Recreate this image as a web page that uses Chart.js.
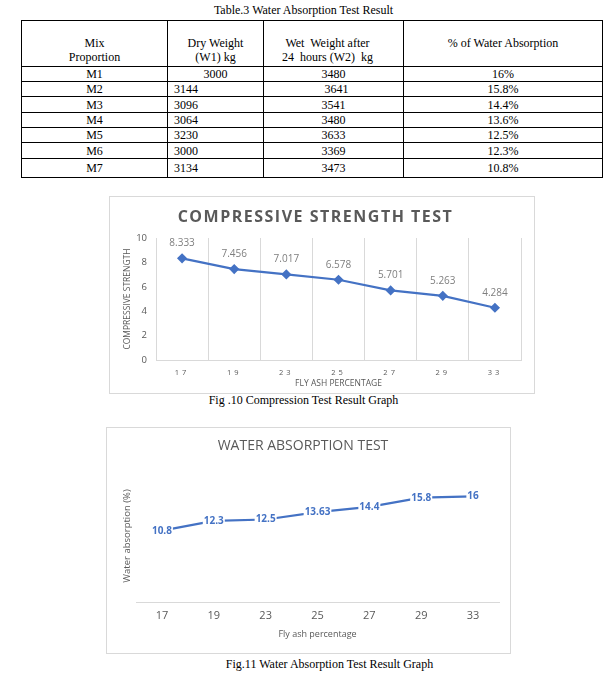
<!DOCTYPE html>
<html>
<head>
<meta charset="utf-8">
<script src="https://cdn.jsdelivr.net/npm/chart.js@4/dist/chart.umd.min.js"></script>
<style>
html,body{margin:0;padding:0;background:#fff;}
#page{position:relative;width:607px;height:676px;overflow:hidden;background:#fff;}
.serif{font-family:"Liberation Serif","Times New Roman",serif;font-size:12px;color:#000;}
.cap{position:absolute;left:0;width:607px;text-align:center;line-height:14px;}
table{position:absolute;left:21px;top:20px;border-collapse:collapse;table-layout:fixed;}
td{border:1px solid #000;padding:0;line-height:14px;text-align:center;vertical-align:middle;white-space:nowrap;overflow:hidden;}
td.l{text-align:left;padding-left:6px;}
tr.h td{vertical-align:top;padding-top:15px;}
.box{position:absolute;border:1px solid #d9d9d9;background:#fff;}
.box canvas{display:block;}
</style>
</head>
<body>
<div id="page">
  <div class="cap serif" style="top:3px;">Table.3 Water Absorption Test Result</div>
  <table class="serif" id="tbl">
    <colgroup><col style="width:146px"><col style="width:96px"><col style="width:140px"><col style="width:199px"></colgroup>
    <tbody id="tbody"></tbody>
  </table>

  <div class="box" style="left:109px;top:196px;width:424px;height:196px;">
    <canvas id="c1" width="424" height="196" style="width:424px;height:196px;"></canvas>
  </div>
  <div class="cap serif" style="top:393px;">Fig .10 Compression Test Result Graph</div>

  <div class="box" style="left:106px;top:427px;width:403px;height:225px;">
    <canvas id="c2" width="403" height="225" style="width:403px;height:225px;"></canvas>
  </div>
  <div class="cap serif" style="top:657px;left:26px;">Fig.11 Water Absorption Test Result Graph</div>
</div>
<script>
// ---------- data ----------
const tableHeaders = ["Mix<br>Proportion", "Dry Weight<br>(W1) kg", "Wet&nbsp; Weight after<br>24&nbsp; hours (W2)&nbsp; kg", "% of Water Absorption"];
const mixes = ["M1", "M2", "M3", "M4", "M5", "M6", "M7"];
const dryWeights = ["3000", "3144", "3096", "3064", "3230", "3000", "3134"];
const wetWeights = ["3480", "3641", "3541", "3480", "3633", "3369", "3473"];
const absorptionPct = ["16%", "15.8%", "14.4%", "13.6%", "12.5%", "12.3%", "10.8%"];

const flyAshCategories = ["17", "19", "23", "25", "27", "29", "33"];
const compressiveStrength = [8.333, 7.456, 7.017, 6.578, 5.701, 5.263, 4.284];
const waterAbsorption = [10.8, 12.3, 12.5, 13.63, 14.4, 15.8, 16];
const compressiveTicks = [0, 2, 4, 6, 8, 10];

// ---------- table ----------
const rowHeights = [46, 15, 15, 16, 15, 15, 16, 19];
const tb = document.getElementById('tbody');
let html = '<tr class="h" style="height:' + rowHeights[0] + 'px">';
tableHeaders.forEach((h, i) => {
  html += '<td' + (i === 2 ? ' style="padding-right:12px"' : '') + '>' + h + '</td>';
});
html += '</tr>';
mixes.forEach((m, i) => {
  html += '<tr style="height:' + rowHeights[i + 1] + 'px">';
  html += '<td>' + m + '</td>';
  html += '<td' + (i === 0 ? '' : ' class="l"') + '>' + dryWeights[i] + '</td>';
  html += '<td>' + (i === 1 ? '&nbsp;&nbsp;' : '') + wetWeights[i] + '</td>';
  html += '<td>' + absorptionPct[i] + '</td>';
  html += '</tr>';
});
tb.innerHTML = html;

// ---------- plugins ----------
const spacingPlugin = {
  id: 'spacing',
  afterLayout(chart, args, opts) {
    const t = chart.titleBlock;
    if (t && !t._sp && opts.title) {
      const d = t.draw.bind(t);
      t.draw = function (a) { const c = chart.ctx; c.save(); c.letterSpacing = opts.title; d(a); c.restore(); };
      t._sp = true;
    }
    const xs = chart.scales.x;
    if (xs && !xs._sp && opts.xTicks) {
      const d = xs.drawLabels.bind(xs);
      xs.drawLabels = function (a) { const c = chart.ctx; c.save(); c.letterSpacing = opts.xTicks; d(a); c.restore(); };
      xs._sp = true;
    }
  }
};

const pointLabelPlugin = {
  id: 'pointLabels',
  afterDatasetsDraw(chart, args, opts) {
    const ctx = chart.ctx;
    const meta = chart.getDatasetMeta(0);
    const data = chart.data.datasets[0].data;
    ctx.save();
    ctx.font = opts.font;
    ctx.textAlign = 'center';
    ctx.textBaseline = 'middle';
    meta.data.forEach((pt, i) => {
      const txt = String(data[i]);
      const x = pt.x, y = pt.y + (opts.dy || 0);
      if (opts.bg) {
        const w = ctx.measureText(txt).width;
        ctx.fillStyle = opts.bg;
        ctx.fillRect(x - w / 2 - opts.pad, y - opts.h / 2, w + 2 * opts.pad, opts.h);
      }
      ctx.fillStyle = opts.color;
      ctx.fillText(txt, x, y);
    });
    ctx.restore();
  }
};

const FONT = '"Open Sans", "Noto Sans", sans-serif';
const GRAY = '#595959';
const BLUE = '#4472C4';

// ---------- chart 1 ----------
new Chart(document.getElementById('c1'), {
  type: 'line',
  data: {
    labels: flyAshCategories,
    datasets: [{
      data: compressiveStrength,
      borderColor: BLUE,
      backgroundColor: BLUE,
      borderWidth: 2.25,
      pointStyle: 'rectRot',
      pointRadius: 3.5,
      pointHoverRadius: 3.5,
      tension: 0,
      fill: false
    }]
  },
  options: {
    responsive: false,
    animation: false,
    events: [],
    layout: { padding: { left: 0, right: 13, top: 0, bottom: 0 } },
    plugins: {
      legend: { display: false },
      tooltip: { enabled: false },
      title: {
        display: true,
        text: 'COMPRESSIVE STRENGTH TEST',
        color: GRAY,
        font: { family: FONT, size: 16, weight: 'bold', lineHeight: 1.2 },
        padding: { top: 11, bottom: 10.8 }
      },
      spacing: { title: '1.5px', xTicks: '3px' },
      pointLabels: { font: '10px ' + FONT, color: '#7f7f7f', dy: -15 }
    },
    scales: {
      x: {
        offset: true,
        grid: { display: true, offset: true, color: '#d9d9d9', lineWidth: 1, drawTicks: false },
        border: { display: true, color: '#d9d9d9' },
        ticks: { color: GRAY, font: { family: FONT, size: 7.5 }, padding: 8, maxRotation: 0 },
        title: { display: true, text: 'FLY ASH PERCENTAGE', color: GRAY, font: { family: FONT, size: 8.5 }, padding: { top: 0, bottom: 4 } },
        afterFit(s) { s.height = 33; }
      },
      y: {
        min: 0, max: 10,
        afterBuildTicks(s) { s.ticks = compressiveTicks.map(v => ({ value: v })); },
        grid: { display: false, drawTicks: false },
        border: { display: false },
        ticks: { color: GRAY, font: { family: FONT, size: 9.5 }, padding: 9 },
        title: { display: true, text: 'COMPRESSIVE STRENGTH', color: GRAY, font: { family: FONT, size: 8.5 }, padding: { top: 12.5, bottom: 0 } },
        afterFit(s) { s.width = 46; }
      }
    }
  },
  plugins: [spacingPlugin, pointLabelPlugin]
});

// ---------- chart 2 ----------
new Chart(document.getElementById('c2'), {
  type: 'line',
  data: {
    labels: flyAshCategories,
    datasets: [{
      data: waterAbsorption,
      borderColor: BLUE,
      backgroundColor: BLUE,
      borderWidth: 2.25,
      pointRadius: 0,
      pointHoverRadius: 0,
      tension: 0,
      fill: false
    }]
  },
  options: {
    responsive: false,
    animation: false,
    events: [],
    layout: { padding: { left: 0, right: 11, top: 0, bottom: 0 } },
    plugins: {
      legend: { display: false },
      tooltip: { enabled: false },
      title: {
        display: true,
        text: 'WATER ABSORPTION TEST',
        color: GRAY,
        font: { family: FONT, size: 14, weight: 'normal', lineHeight: 1.2 },
        padding: { top: 9.6, bottom: 15.6 }
      },
      pointLabels: { font: 'bold 10px ' + FONT, color: BLUE, dy: 0, bg: '#ffffff', pad: 1, h: 11 }
    },
    scales: {
      x: {
        offset: true,
        grid: { display: false, drawTicks: false },
        border: { display: true, color: '#d9d9d9' },
        ticks: { color: GRAY, font: { family: FONT, size: 11 }, padding: 7.4, maxRotation: 0 },
        title: { display: true, text: 'Fly ash percentage', color: GRAY, font: { family: FONT, size: 9 }, padding: { top: 0, bottom: 13.6 } },
        afterFit(s) { s.height = 51; }
      },
      y: {
        min: 0, max: 20,
        grid: { display: false, drawTicks: false },
        border: { display: false },
        ticks: { display: false },
        title: { display: true, text: 'Water absorption (%)', color: GRAY, font: { family: FONT, size: 9.5 }, padding: { top: 15, bottom: 0 } },
        afterFit(s) { s.width = 29; }
      }
    }
  },
  plugins: [pointLabelPlugin]
});
</script>
</body>
</html>
